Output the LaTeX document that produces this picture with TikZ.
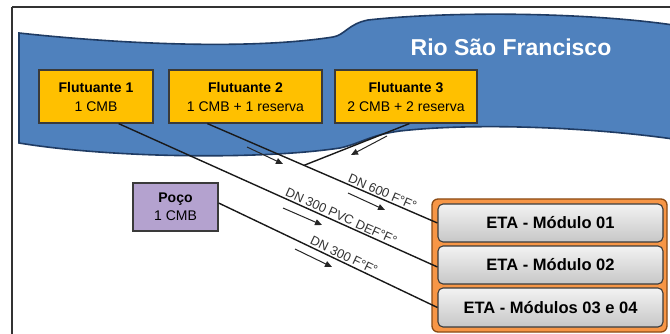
\documentclass[tikz,border=0pt]{standalone}
\usepackage{fontspec}
\setmainfont{Liberation Sans}
\usetikzlibrary{arrows.meta,calc}
\definecolor{riverblue}{HTML}{4F81BD}
\definecolor{rivernavy}{HTML}{1F3B63}
\definecolor{boxgold}{HTML}{FFC000}
\definecolor{boxedge}{HTML}{3A3A3A}
\definecolor{poco}{HTML}{B4A2CF}
\definecolor{etaorange}{HTML}{F79646}
\definecolor{etaedge}{HTML}{8A4A14}
\definecolor{labelgray}{HTML}{333333}
\tikzset{
  flutbox/.style={draw=boxedge, line width=1.2pt, fill=boxgold, align=center, inner sep=0pt,
    font=\fontsize{14}{19}\selectfont},
  pocobox/.style={draw=boxedge, line width=1.2pt, fill=poco, align=center, inner sep=0pt,
    font=\fontsize{14}{18}\selectfont},
  etabox/.style={draw=boxedge, line width=1.1pt, rounded corners=5pt, top color=white!95!black,
    bottom color=white!78!black, inner sep=0pt, font=\bfseries\fontsize{16.5}{18}\selectfont},
  pipe/.style={draw=black!90, line width=1.4pt},
  flow/.style={draw=black!85, line width=1pt, -{Triangle[length=7pt,width=6pt]}},
  pipelabel/.style={sloped, above, inner sep=1.5pt, text=labelgray, font=\fontsize{12.8}{13}\selectfont}
}
\begin{document}
\begin{tikzpicture}[x=1pt,y=-1pt]
\useasboundingbox (0,0) rectangle (670,334);
\clip (0,0) rectangle (670,334);
\fill[white] (0,0) rectangle (670,334);
% frame
\draw[black!80, line width=1.5pt] (12,7) -- (672,7);
\draw[black!80, line width=1.5pt] (12,7) -- (12,340);
% river
\draw[rivernavy, line width=1.6pt, fill=riverblue]
  (19,33) .. controls (120,44) and (250,50) .. (333,37)
  .. controls (345,35) and (348,24) .. (368,20)
  .. controls (450,11) and (590,12) .. (680,26)
  -- (680,140)
  .. controls (600,128) and (480,122) .. (400,131)
  .. controls (370,135) and (362,143) .. (340,148)
  .. controls (260,160) and (110,158) .. (19,143) -- cycle;
\node[text=white, font=\bfseries\fontsize{23}{23}\selectfont] (rio) at (511,47) {Rio São Francisco};
% floating pumps
\node[flutbox, minimum width=114pt, minimum height=53pt] (f1) at (96,96.5) {\textbf{Flutuante 1}\\1 CMB};
\node[flutbox, minimum width=153pt, minimum height=53pt] (f2) at (245.5,96.5) {\textbf{Flutuante 2}\\1 CMB + 1 reserva};
\node[flutbox, minimum width=142pt, minimum height=53pt] (f3) at (406,96.5) {\textbf{Flutuante 3}\\2 CMB + 2 reserva};
% well
\node[pocobox, minimum width=85pt, minimum height=48pt] (p) at (175.5,207) {\textbf{Poço}\\1 CMB};
% ETA group
\node[draw=etaedge, line width=1.3pt, fill=etaorange, rounded corners=6pt, minimum width=235pt, minimum height=133pt, inner sep=0pt] (eta) at (549.5,265.5) {};
\node[etabox, minimum width=225pt, minimum height=38pt] (m1) at (550.5,223) {ETA - Módulo 01};
\node[etabox, minimum width=225pt, minimum height=38pt] (m2) at (550.5,265) {ETA - Módulo 02};
\node[etabox, minimum width=225pt, minimum height=39pt] (m3) at (550.5,307.5) {ETA - Módulos 03 e 04};
% pipes
\coordinate (s1) at ([xshift=-35pt]f1.south east);
\coordinate (s2) at ([xshift=39pt]f2.south west);
\coordinate (s3) at ([xshift=75pt]f3.south west);
\coordinate (e1) at ([yshift=-2pt]m2.west);
\path[pipe] (s1) -- node[pipelabel, pos=0.69] {DN 300 PVC DEF°F°} (e1);
\path[pipe] (s2) -- node[pipelabel, pos=0.75] {DN 600 F°F°} (m1.west);
\coordinate (j) at ($(s2)!0.42!(m1.west)$);
\path[pipe] (s3) -- (j);
\coordinate (s4) at ([yshift=4pt]p.east);
\path[pipe] (s4) -- node[pipelabel, pos=0.56] {DN 300 F°F°} (m3.west);
% flow arrows
\coordinate (a1s) at (247,147); \coordinate (a1e) at (283,164);
\coordinate (a2s) at (387,136); \coordinate (a2e) at (351,155);
\coordinate (a3s) at (348,193); \coordinate (a3e) at (385,210);
\coordinate (a4s) at (283,208); \coordinate (a4e) at (322,225);
\coordinate (a5s) at (295,249); \coordinate (a5e) at (332,267);
\draw[flow] (a1s) -- (a1e);
\draw[flow] (a2s) -- (a2e);
\draw[flow] (a3s) -- (a3e);
\draw[flow] (a4s) -- (a4e);
\draw[flow] (a5s) -- (a5e);
\end{tikzpicture}
\end{document}
